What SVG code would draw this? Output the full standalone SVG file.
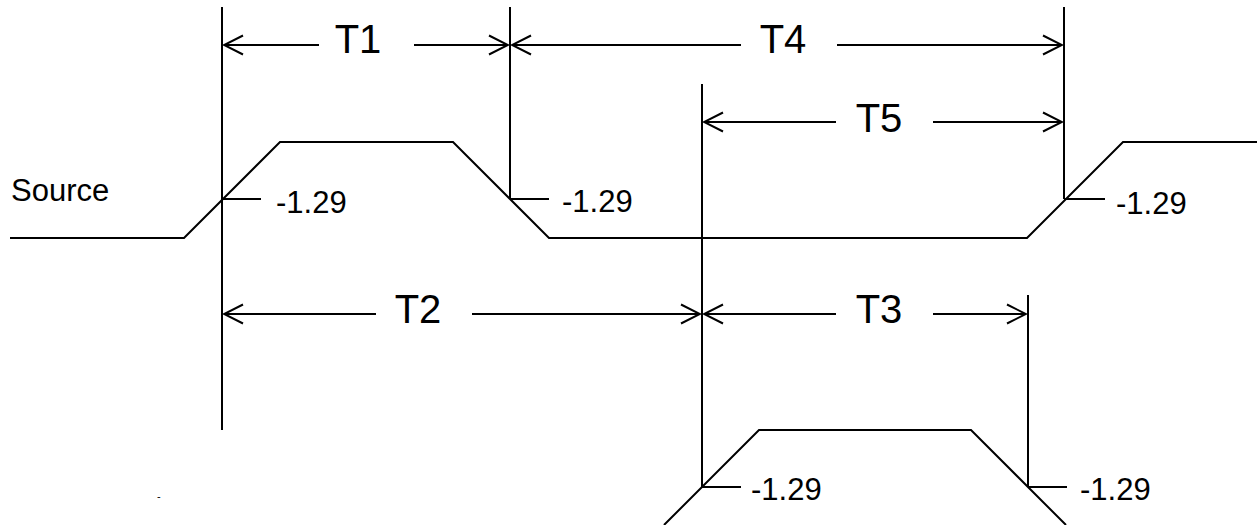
<svg xmlns="http://www.w3.org/2000/svg" width="1257" height="525" viewBox="0 0 1257 525">
<style>
.ln{stroke:#000;stroke-width:2;fill:none}
.wv{stroke:#000;stroke-width:2;fill:none;stroke-linejoin:miter}
.lbl{font-family:"Liberation Sans",Arial,sans-serif;font-size:40px;fill:#000;text-anchor:middle}
.val{font-family:"Liberation Sans",Arial,sans-serif;font-size:31px;fill:#000}
</style>
<defs>
<marker id="ah" viewBox="0 0 22 22" refX="20" refY="11" markerWidth="22" markerHeight="22" markerUnits="userSpaceOnUse" orient="auto-start-reverse">
<path d="M1,1.5 L20,11 L1,20.5" fill="none" stroke="#000" stroke-width="2"/>
</marker>
</defs>
<rect width="1257" height="525" fill="#fff"/>
<g id="source">
<text class="val" x="11" y="201">Source</text>
<polyline class="wv" points="10,238 184,238 280,142 453,142 549,238 1027,238 1123,142 1257,142"/>
</g>
<g id="output">
<polyline class="wv" points="664,525 759,430 971,430 1066,525"/>
<text x="157" y="500" style="font-family:'Liberation Sans',Arial,sans-serif;font-size:11px">-</text>
</g>
<g id="refs">
<line class="ln" x1="222" y1="7" x2="222" y2="430"/>
<line class="ln" x1="510" y1="7" x2="510" y2="199"/>
<line class="ln" x1="1064" y1="7" x2="1064" y2="199"/>
<line class="ln" x1="702" y1="84" x2="702" y2="487"/>
<line class="ln" x1="1028" y1="295" x2="1028" y2="487"/>
</g>
<g id="ticks">
<line class="ln" x1="222" y1="199" x2="261" y2="199"/>
<text class="val" x="276" y="213">-1.29</text>
<line class="ln" x1="510" y1="199" x2="549" y2="199"/>
<text class="val" x="562" y="212">-1.29</text>
<line class="ln" x1="1064" y1="199" x2="1105" y2="199"/>
<text class="val" x="1116" y="214">-1.29</text>
<line class="ln" x1="702" y1="487" x2="741" y2="487"/>
<text class="val" x="751" y="500">-1.29</text>
<line class="ln" x1="1028" y1="487" x2="1067" y2="487"/>
<text class="val" x="1080" y="500">-1.29</text>
</g>
<g id="connectors">
<line class="ln" x1="319" y1="45" x2="224" y2="45" marker-end="url(#ah)"/>
<line class="ln" x1="414" y1="45" x2="508" y2="45" marker-end="url(#ah)"/>
<line class="ln" x1="741" y1="45" x2="512" y2="45" marker-end="url(#ah)"/>
<line class="ln" x1="837" y1="45" x2="1062" y2="45" marker-end="url(#ah)"/>
<line class="ln" x1="836" y1="122" x2="704" y2="122" marker-end="url(#ah)"/>
<line class="ln" x1="933" y1="122" x2="1062" y2="122" marker-end="url(#ah)"/>
<line class="ln" x1="376" y1="314" x2="224" y2="314" marker-end="url(#ah)"/>
<line class="ln" x1="472" y1="314" x2="700" y2="314" marker-end="url(#ah)"/>
<line class="ln" x1="836" y1="314" x2="704" y2="314" marker-end="url(#ah)"/>
<line class="ln" x1="933" y1="314" x2="1026" y2="314" marker-end="url(#ah)"/>
</g>
<g id="labels">
<text class="lbl" x="358" y="53">T1</text>
<text class="lbl" x="783" y="53">T4</text>
<text class="lbl" x="879" y="132">T5</text>
<text class="lbl" x="418" y="323">T2</text>
<text class="lbl" x="879" y="323">T3</text>
</g>
</svg>
